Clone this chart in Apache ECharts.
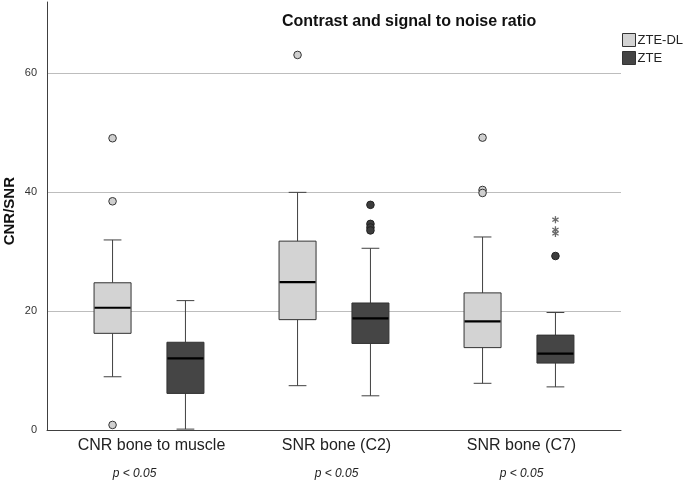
<!DOCTYPE html>
<html><head><meta charset="utf-8">
<script src="https://cdn.jsdelivr.net/npm/echarts@6/dist/echarts.min.js"></script>
<style>html,body{margin:0;padding:0;background:#fff}#c{width:685px;height:481px}</style>
</head><body><div id="c"></div>
<script>
const categories = ['CNR bone to muscle', 'SNR bone (C2)', 'SNR bone (C7)'];
const pLabels = ['p < 0.05', 'p < 0.05', 'p < 0.05'];
const seriesNames = ['ZTE-DL', 'ZTE'];
// [lower whisker, Q1, median, Q3, upper whisker] per category
const zteDlBox = [[9.0, 16.3, 20.6, 24.8, 32.0], [7.5, 18.6, 24.9, 31.8, 40.0], [7.9, 13.9, 18.3, 23.1, 32.5]];
const zteBox = [[0.2, 6.2, 12.1, 14.8, 21.8], [5.8, 14.6, 18.8, 21.4, 30.6], [7.3, 11.3, 12.9, 16.0, 19.8]];
// outliers [category index, value]
const zteDlOutliers = [[0, 49.1], [0, 38.5], [0, 0.9], [1, 63.1], [2, 49.2], [2, 40.4], [2, 39.9]];
const zteOutliers = [[1, 37.9], [1, 34.7], [1, 34.1], [1, 33.6], [2, 29.3]];
const zteExtremes = [[2, 35.4], [2, 33.7], [2, 33.1]];
const yMin = 0, yMax = 72, yStep = 20;

const fillDL = '#d3d3d3', fillZTE = '#454545';
const OFF = 0.197, BOXW = 0.2;

function boxRender(side, fill) {
  return function (params, api) {
    const ci = api.value(0);
    const bw = api.size([1, 0])[0];
    const cx = api.coord([ci, 0])[0] + side * bw * OFF;
    const w = bw * BOXW, capW = w * 0.48;
    const y = v => api.coord([ci, v])[1];
    const lo = y(api.value(1)), q1 = y(api.value(2)), md = y(api.value(3)), q3 = y(api.value(4)), hi = y(api.value(5));
    const ls = { stroke: '#404040', lineWidth: 1 };
    return { type: 'group', children: [
      { type: 'line', shape: { x1: cx, y1: hi, x2: cx, y2: q3 }, style: ls },
      { type: 'line', shape: { x1: cx, y1: q1, x2: cx, y2: lo }, style: ls },
      { type: 'line', shape: { x1: cx - capW / 2, y1: hi, x2: cx + capW / 2, y2: hi }, style: ls },
      { type: 'line', shape: { x1: cx - capW / 2, y1: lo, x2: cx + capW / 2, y2: lo }, style: ls },
      { type: 'rect', shape: { x: cx - w / 2, y: q3, width: w, height: q1 - q3 }, style: { fill: fill, stroke: '#333', lineWidth: 1 } },
      { type: 'line', shape: { x1: cx - w / 2 + 0.5, y1: md, x2: cx + w / 2 - 0.5, y2: md }, style: { stroke: '#000', lineWidth: 2.2 } }
    ]};
  };
}
function dotRender(side, fill, stroke) {
  return function (params, api) {
    const ci = api.value(0);
    const bw = api.size([1, 0])[0];
    const p = api.coord([ci, api.value(1)]);
    return { type: 'circle', shape: { cx: p[0] + side * bw * OFF, cy: p[1], r: 3.8 }, style: { fill: fill, stroke: stroke, lineWidth: 1 } };
  };
}
function starRender(side) {
  return function (params, api) {
    const ci = api.value(0);
    const bw = api.size([1, 0])[0];
    const p = api.coord([ci, api.value(1)]);
    const cx = p[0] + side * bw * OFF, cy = p[1], r = 3.6;
    const st = { stroke: '#6a6a6a', lineWidth: 1.3 };
    const ch = [];
    for (let k = 0; k < 3; k++) {
      const a = Math.PI / 2 + k * Math.PI / 3;
      ch.push({ type: 'line', shape: { x1: cx - r * Math.cos(a), y1: cy - r * Math.sin(a), x2: cx + r * Math.cos(a), y2: cy + r * Math.sin(a) }, style: st });
    }
    return { type: 'group', children: ch };
  };
}

const chart = echarts.init(document.getElementById('c'), null, { renderer: 'canvas' });
chart.setOption({
  animation: false,
  textStyle: { fontFamily: 'Liberation Sans, Arial, sans-serif' },
  title: { text: 'Contrast and signal to noise ratio', left: 277, top: 9,
    textStyle: { fontSize: 16, fontWeight: 'bold', color: '#111', fontFamily: 'Liberation Sans, Arial, sans-serif' } },
  legend: { data: seriesNames, orient: 'vertical', left: 622, top: 33, itemWidth: 13, itemHeight: 13, itemGap: 4, padding: 0,
    icon: 'rect', itemStyle: { borderColor: '#333', borderWidth: 1 },
    textStyle: { fontSize: 13, color: '#222', padding: [0, 0, 0, -3] } },
  grid: [
    { left: 47, width: 574, top: 2, bottom: 50.7, outerBoundsMode: 'none', containLabel: false },
    { left: 56.5, width: 555, top: 2, bottom: 50.7, outerBoundsMode: 'none', containLabel: false }
  ],
  xAxis: [
    { gridIndex: 0, type: 'value', min: 0, max: 1, axisLine: { show: true, lineStyle: { color: '#404040' } },
      axisTick: { show: false }, axisLabel: { show: false }, splitLine: { show: false } },
    { gridIndex: 1, type: 'category', data: categories, axisLine: { show: false }, axisTick: { show: false },
      axisLabel: { margin: 4, formatter: (v, i) => '{a|' + v + '}\n' + (i === 0 ? '{p0|' : '{p|') + pLabels[i] + '}',
        rich: { a: { fontSize: 16, lineHeight: 22, color: '#222', padding: [0, 0, 0, 5] },
                p: { fontSize: 12, fontStyle: 'italic', lineHeight: 34, color: '#222', padding: [0, 0, 0, 5] },
                p0: { fontSize: 12, fontStyle: 'italic', lineHeight: 34, color: '#222', padding: [0, 34, 0, 5] } } } }
  ],
  yAxis: [
    { gridIndex: 0, type: 'value', min: yMin, max: yMax, interval: yStep, name: 'CNR/SNR', nameLocation: 'middle', nameGap: 30,
      nameMoveOverlap: false,
      nameTextStyle: { fontSize: 15, fontWeight: 'bold', color: '#111', padding: [0, 0, 0, 10] },
      axisLine: { show: true, lineStyle: { color: '#404040' } }, axisTick: { show: false },
      axisLabel: { fontSize: 11, color: '#333', margin: 10, showMaxLabel: false },
      splitLine: { show: true, showMaxLine: false, lineStyle: { color: '#bdbdbd', width: 1 } } },
    { gridIndex: 1, type: 'value', min: yMin, max: yMax, show: false, splitLine: { show: false } }
  ],
  series: [
    { name: seriesNames[0], type: 'custom', xAxisIndex: 1, yAxisIndex: 1, itemStyle: { color: fillDL },
      renderItem: boxRender(-1, fillDL), encode: { x: 0, y: [1, 2, 3, 4, 5] }, data: zteDlBox.map((b, i) => [i].concat(b)) },
    { name: seriesNames[1], type: 'custom', xAxisIndex: 1, yAxisIndex: 1, itemStyle: { color: fillZTE },
      renderItem: boxRender(1, fillZTE), encode: { x: 0, y: [1, 2, 3, 4, 5] }, data: zteBox.map((b, i) => [i].concat(b)) },
    { name: 'ZTE-DL outliers', type: 'custom', xAxisIndex: 1, yAxisIndex: 1, renderItem: dotRender(-1, '#cfcfcf', '#333'),
      encode: { x: 0, y: 1 }, data: zteDlOutliers },
    { name: 'ZTE outliers', type: 'custom', xAxisIndex: 1, yAxisIndex: 1, renderItem: dotRender(1, '#3c3c3c', '#222'),
      encode: { x: 0, y: 1 }, data: zteOutliers },
    { name: 'ZTE extremes', type: 'custom', xAxisIndex: 1, yAxisIndex: 1, renderItem: starRender(1),
      encode: { x: 0, y: 1 }, data: zteExtremes }
  ]
});
</script></body></html>
